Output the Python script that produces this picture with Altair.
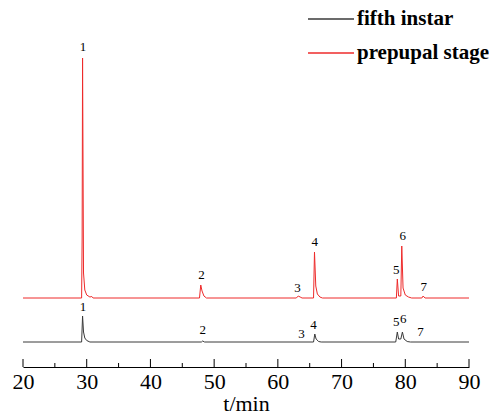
import altair as alt
import pandas as pd

# Chromatogram traces (time in min, detector response in arbitrary units)
fifth_t = [20, 29.2, 29.35, 29.5, 29.7, 30.0, 30.5, 48.0, 48.2, 48.5, 65.6, 65.8, 66.0, 66.4, 66.8,
           78.5, 78.75, 78.95, 79.3, 79.55, 79.8, 80.3, 80.8, 90]
fifth_v = [0, 0, 26, 10, 4, 1.5, 0, 0, 1, 0, 0, 8, 3, 0.5, 0,
           0, 10, 3, 3, 10, 3, 0.5, 0, 0]

pre_t = [20, 29.2, 29.28, 29.35, 29.5, 29.7, 30.0, 30.5, 30.8, 31.0, 47.7, 47.9, 48.1, 48.4, 48.8,
         62.9, 63.2, 63.5, 63.8, 65.6, 65.75, 65.95, 66.2, 66.6, 67.0,
         78.6, 78.75, 78.95, 79.3, 79.45, 79.65, 80.0, 80.5, 81.0, 82.6, 82.8, 83.1, 90]
pre_v = [0, 0, 60, 240, 25, 8, 3, 1, 1.5, 0, 0, 13, 7, 2, 0,
         0, 2, 1, 0, 0, 46, 12, 4, 1, 0,
         0, 19, 2, 2, 52, 10, 3, 1, 0, 0, 2, 0, 0]

# Peak number labels (time, response at label)
pre_lab_t = [29.4, 48.0, 63.1, 65.8, 78.6, 79.6, 82.9]
pre_lab_v = [251, 23, 10, 56, 28, 62, 11]
fifth_lab_t = [29.4, 48.2, 63.7, 65.6, 78.6, 79.7, 82.4]
fifth_lab_v = [35, 12, 8, 17, 20, 23, 10]
peak_ids = ["1", "2", "3", "4", "5", "6", "7"]

series = ["fifth instar", "prepupal stage"]
colors = ["#3a3a3a", "#ee2b2b"]
major_ticks = [20, 30, 40, 50, 60, 70, 80, 90]
minor_ticks = [25, 35, 45, 55, 65, 75, 85]

OFFSET = 44  # vertical stacking of the prepupal trace

lines = pd.concat([
    pd.DataFrame({"t": fifth_t, "v": fifth_v, "s": series[0], "o": 0}),
    pd.DataFrame({"t": pre_t, "v": pre_v, "s": series[1], "o": OFFSET}),
])
labels = pd.concat([
    pd.DataFrame({"t": fifth_lab_t, "v": fifth_lab_v, "id": peak_ids, "o": 0}),
    pd.DataFrame({"t": pre_lab_t, "v": pre_lab_v, "id": peak_ids, "o": OFFSET}),
])

FONT = "Liberation Serif"
xscale = alt.Scale(domain=[20, 90], nice=False, zero=False)
yscale = alt.Scale(domain=[-25, 332], nice=False, zero=False)

line = alt.Chart(lines).transform_calculate(y="datum.v + datum.o").mark_line(
    strokeWidth=1, interpolate="linear"
).encode(
    x=alt.X("t:Q", scale=xscale, axis=alt.Axis(
        title="t/min", values=major_ticks, ticks=False, grid=False, domainColor="black",
        labelPadding=4, titlePadding=1, format="d", labelFlush=False, labelOverlap=False)),
    y=alt.Y("y:Q", scale=yscale, axis=None),
    color=alt.Color("s:N", scale=alt.Scale(domain=series, range=colors),
                    legend=alt.Legend(title=None, orient="none", legendX=284, legendY=-15,
                                      symbolType="stroke", symbolSize=2116, symbolStrokeWidth=1.5,
                                      labelOffset=2, rowPadding=-16)),
    detail="s:N",
)

text = alt.Chart(labels).transform_calculate(y="datum.v + datum.o").mark_text(
    fontSize=13, color="black", baseline="middle", align="center"
).encode(x=alt.X("t:Q", scale=xscale), y=alt.Y("y:Q", scale=yscale), text="id:N")

majors = alt.Chart(pd.DataFrame({"t": major_ticks})).mark_rule(color="black", strokeWidth=1).encode(
    x=alt.X("t:Q", scale=xscale), y=alt.value(357), y2=alt.value(349))
minors = alt.Chart(pd.DataFrame({"t": minor_ticks})).mark_rule(color="black", strokeWidth=1).encode(
    x=alt.X("t:Q", scale=xscale), y=alt.value(357), y2=alt.value(353))

chart = alt.layer(line, text, majors, minors).properties(
    width=446, height=357,
    autosize=alt.AutoSizeParams(type="none"),
    padding={"left": 15, "top": 2, "right": 20, "bottom": 51},
    background="white",
).configure(font=FONT).configure_view(stroke=None).configure_axis(
    labelFont=FONT, labelFontSize=22, labelColor="black",
    titleFont=FONT, titleFontSize=22, titleFontWeight="normal", titleColor="black",
).configure_legend(
    labelFont=FONT, labelFontSize=21, labelFontWeight="bold", labelColor="black",
).configure_text(font=FONT)

chart.save("out.html", embed_options={"renderer": "svg", "actions": False})
